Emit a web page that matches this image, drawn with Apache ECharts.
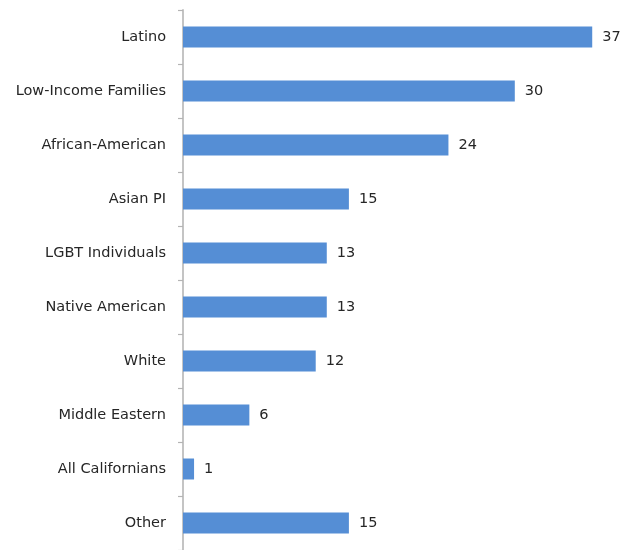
<!DOCTYPE html>
<html>
<head>
<meta charset="utf-8">
<script src="https://cdn.jsdelivr.net/npm/echarts@6/dist/echarts.min.js"></script>
<style>
  html, body { margin: 0; padding: 0; background: #fff; }
  #chart { width: 629px; height: 550px; }
</style>
</head>
<body>
<div id="chart"></div>
<script>
// Groups, listed top to bottom
const categories = [
  'Latino', 'Low-Income Families', 'African-American', 'Asian PI',
  'LGBT Individuals', 'Native American', 'White', 'Middle Eastern',
  'All Californians', 'Other'
];
// Count for each group
const values = [37, 30, 24, 15, 13, 13, 12, 6, 1, 15];

const chart = echarts.init(document.getElementById('chart'));
chart.setOption({
  animation: false,
  backgroundColor: '#ffffff',
  grid: { left: 183, top: 10, width: 442.4, height: 543, containLabel: false },
  xAxis: {
    type: 'value', min: 0, max: 40,
    show: false
  },
  yAxis: {
    type: 'category',
    data: categories,
    inverse: true,
    axisLine: { show: true, lineStyle: { color: '#c4c4c4', width: 2 } },
    axisTick: { show: true, length: 5, lineStyle: { color: '#b4b4b4', width: 1.2 } },
    axisLabel: {
      margin: 17, color: '#262626', fontSize: 14.5,
      fontFamily: 'DejaVu Sans'
    }
  },
  series: [{
    type: 'bar',
    data: values,
    barWidth: 21,
    itemStyle: { color: '#558ed5' },
    label: {
      show: true, position: 'right', distance: 10,
      color: '#262626', fontSize: 14.5, fontFamily: 'DejaVu Sans'
    }
  }]
});
</script>
</body>
</html>
